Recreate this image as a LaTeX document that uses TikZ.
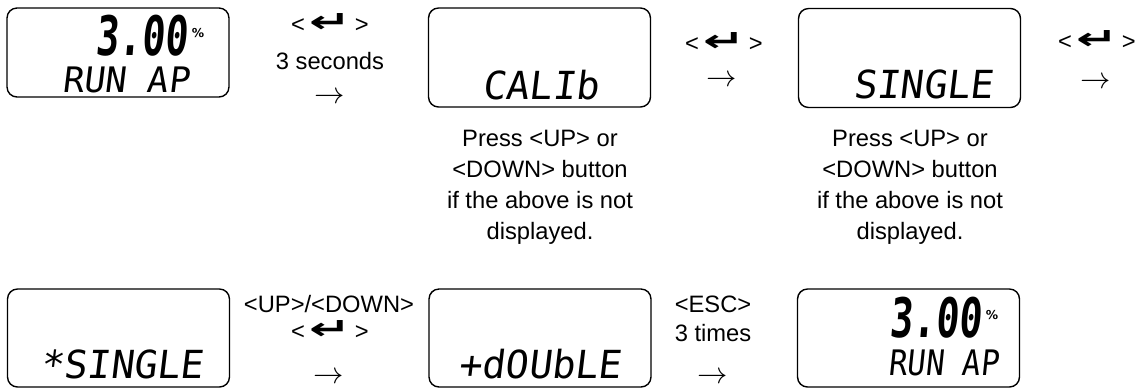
\documentclass[tikz,border=0pt]{standalone}
\usepackage{graphicx}
\usepackage{fontspec}
\setmainfont{Liberation Sans}
\newfontfamily\lcdfont{DejaVu Sans Mono}[FakeSlant=0.12]
\newfontfamily\keyfont{DejaVu Sans}
\newcommand\enterkey{<\,{\keyfont\bfseries\fontsize{15}{15}\selectfont\scalebox{1.9}[1.15]{↵}}\,>}
\newcommand\nextstep{{\fontsize{16}{16}\selectfont$\rightarrow$}}
\begin{document}
\begin{tikzpicture}[x=0.02cm, y=-0.02cm,
  lcdbox/.style={draw, line width=0.8pt, rounded corners=0.2cm, minimum width=4.44cm, inner sep=0pt},
  lcd/.style={font=\lcdfont\fontsize{22}{22}\selectfont, anchor=base west, inner sep=0pt},
  lcdsmall/.style={lcd, font=\lcdfont\fontsize{20}{20}\selectfont},
  digits/.style={font=\lcdfont\bfseries\fontsize{31}{31}\selectfont, anchor=base west, inner sep=0pt, xscale=0.7},
  pct/.style={font=\keyfont\bfseries\fontsize{7}{7}\selectfont, inner sep=0pt},
  keytxt/.style={font=\fontsize{13.5}{16}\selectfont, inner sep=0pt},
  steparrow/.style={keytxt, text height=8pt, text depth=0pt},
  note/.style={font=\fontsize{13.5}{17.6}\selectfont, align=center, inner sep=0pt}]
\useasboundingbox (0,0) rectangle (1135,389);
% displays
\foreach \n/\x/\y/\h in {d1/118/52.5/1.78cm, d2/539.5/57.5/1.98cm, d3/909.5/58/1.98cm,
                         d4/118.5/338/1.96cm, d5/540/338/1.96cm, d6/908.5/338/1.96cm}
  \node[lcdbox, minimum height=\h] (\n) at (\x,\y) {};
% screen texts
\node[digits] (v1) at (95,55) {3.00};
\node[pct] (p1) at (198,33) {\%};
\node[lcdsmall] (r1) at (62,92) {RUN AP};
\node[lcd] (cal) at (482,99) {CALIb};
\node[lcd] (sgl) at (853,98) {SINGLE};
\node[lcd] (ssgl) at (40,378) {*SINGLE};
\node[lcd] (dbl) at (458,378) {+dOUbLE};
\node[digits] (v2) at (889,337) {3.00};
\node[pct] (p2) at (992,315) {\%};
\node[lcdsmall, xscale=0.87] (r2) at (888,375) {RUN AP};
% key steps
\node[keytxt] (k1a) at (330,23) {\enterkey};
\node[keytxt] (k1b) at (330,61) {3 seconds};
\node[steparrow] (k1c) at (330,96) {\nextstep};
\node[keytxt] (k2a) at (724,42) {\enterkey};
\node[steparrow] (k2b) at (722,79) {\nextstep};
\node[keytxt] (k3a) at (1097,40) {\enterkey};
\node[steparrow] (k3b) at (1096,81) {\nextstep};
\node[keytxt] (k4a) at (329,304) {<UP>/<DOWN>};
\node[keytxt] (k4b) at (330,330) {\enterkey};
\node[steparrow] (k4c) at (329,376) {\nextstep};
\node[keytxt] (k5a) at (713,304) {<ESC>};
\node[keytxt] (k5b) at (713,333) {3 times};
\node[steparrow] (k5c) at (713,376) {\nextstep};
% hints
\node[note] (n2) at (540,187) {Press <UP> or\\<DOWN> button\\if the above is not\\displayed.};
\node[note] (n3) at (910,187) {Press <UP> or\\<DOWN> button\\if the above is not\\displayed.};
\end{tikzpicture}
\end{document}
